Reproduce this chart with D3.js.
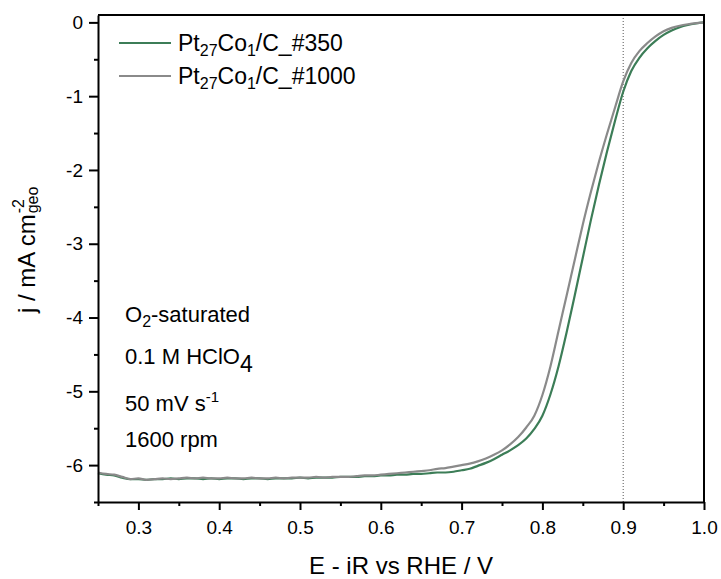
<!DOCTYPE html>
<html lang="en">
<head>
<meta charset="utf-8">
<script src="https://d3js.org/d3.v7.min.js"></script>
<style>
  body { margin: 0; background: #fff; }
  text { font-family: "Liberation Sans", Arial, sans-serif; fill: #000; }
</style>
<title>ORR polarization</title>
</head>
<body>
<div id="chart"></div>
<script>

// potential axis, shared by both curves (V vs RHE)
const potential = [
  0.25, 0.26, 0.27, 0.28, 0.29, 0.30, 0.31, 0.32, 0.33, 0.34,
  0.35, 0.36, 0.37, 0.38, 0.39, 0.40, 0.41, 0.42, 0.43, 0.44,
  0.45, 0.46, 0.47, 0.48, 0.49, 0.50, 0.51, 0.52, 0.53, 0.54,
  0.55, 0.56, 0.57, 0.58, 0.59, 0.60, 0.61, 0.62, 0.63, 0.64,
  0.65, 0.66, 0.67, 0.68, 0.69, 0.70, 0.71, 0.72, 0.73, 0.74,
  0.75, 0.76, 0.77, 0.78, 0.79, 0.80, 0.81, 0.82, 0.83, 0.84,
  0.85, 0.86, 0.87, 0.88, 0.89, 0.90, 0.91, 0.92, 0.93, 0.94,
  0.95, 0.96, 0.97, 0.98, 0.99, 1.00
];

// Pt27Co1/C_#350 current density (mA cm-2)
const j350 = [
  -6.11, -6.13, -6.14, -6.17, -6.19, -6.19, -6.20, -6.19, -6.19, -6.18,
  -6.19, -6.18, -6.18, -6.19, -6.18, -6.19, -6.18, -6.18, -6.19, -6.18,
  -6.18, -6.19, -6.18, -6.18, -6.18, -6.17, -6.18, -6.17, -6.17, -6.17,
  -6.16, -6.16, -6.16, -6.15, -6.15, -6.14, -6.14, -6.13, -6.13, -6.12,
  -6.12, -6.11, -6.10, -6.10, -6.09, -6.07, -6.05, -6.01, -5.97, -5.92,
  -5.86, -5.80, -5.73, -5.64, -5.51, -5.33, -5.04, -4.66, -4.20, -3.70,
  -3.19, -2.68, -2.20, -1.75, -1.33, -0.94, -0.66, -0.48, -0.35, -0.25,
  -0.17, -0.11, -0.065, -0.035, -0.015, 0.00
];

// Pt27Co1/C_#1000 current density (mA cm-2)
const j1000 = [
  -6.10, -6.12, -6.13, -6.16, -6.19, -6.18, -6.20, -6.19, -6.18, -6.19,
  -6.18, -6.17, -6.18, -6.17, -6.18, -6.18, -6.17, -6.18, -6.18, -6.17,
  -6.18, -6.18, -6.17, -6.18, -6.17, -6.17, -6.17, -6.16, -6.17, -6.16,
  -6.16, -6.16, -6.15, -6.14, -6.14, -6.13, -6.12, -6.11, -6.10, -6.09,
  -6.08, -6.07, -6.05, -6.04, -6.02, -6.00, -5.98, -5.95, -5.91, -5.86,
  -5.80, -5.72, -5.62, -5.49, -5.33, -5.05, -4.66, -4.18, -3.70, -3.22,
  -2.74, -2.30, -1.89, -1.51, -1.15, -0.80, -0.55, -0.39, -0.28, -0.19,
  -0.12, -0.075, -0.045, -0.025, -0.01, 0.00
];

const xTicks = [0.3, 0.4, 0.5, 0.6, 0.7, 0.8, 0.9, 1.0];
const xMinor = [0.25, 0.35, 0.45, 0.55, 0.65, 0.75, 0.85, 0.95];
const yTicks = [0, -1, -2, -3, -4, -5, -6];
const yMinor = [-0.5, -1.5, -2.5, -3.5, -4.5, -5.5, -6.5];
const refPotential = 0.9;

const margin = {top: 15, right: 17, bottom: 77, left: 98},
    width = 721 - margin.left - margin.right,
    height = 579 - margin.top - margin.bottom;

const svg = d3.select("#chart")
  .append("svg")
    .attr("width", 721)
    .attr("height", 579)
  .append("g")
    .attr("transform", `translate(${margin.left},${margin.top})`);

const x = d3.scaleLinear()
  .domain([0.25, 1.0])
  .range([0, width]);

const y = d3.scaleLinear()
  .domain([-6.5, 0.1])
  .range([height, 0]);

// dotted reference line at 0.9 V
svg.append("line")
  .attr("x1", x(refPotential))
  .attr("x2", x(refPotential))
  .attr("y1", 0)
  .attr("y2", height)
  .attr("stroke", "#555")
  .attr("stroke-width", 1)
  .attr("stroke-dasharray", "1,2");

const line = d3.line()
  .x(d => x(d[0]))
  .y(d => y(d[1]))
  .curve(d3.curveMonotoneX);

const series = [
  {name: "350", values: j350, color: "#3c7d57"},
  {name: "1000", values: j1000, color: "#8a8a8a"}
];

series.forEach(function(s) {
  svg.append("path")
    .datum(potential.map((e, i) => [e, s.values[i]]))
    .attr("fill", "none")
    .attr("stroke", s.color)
    .attr("stroke-width", 2.2)
    .attr("stroke-linejoin", "round")
    .attr("d", line);
});

// axes
svg.append("g")
  .attr("transform", `translate(0,${height})`)
  .call(d3.axisBottom(x).tickValues(xTicks).tickSize(8).tickPadding(11)
    .tickSizeOuter(0).tickFormat(d => d.toFixed(1)));
svg.append("g")
  .attr("transform", `translate(0,${height})`)
  .call(d3.axisBottom(x).tickValues(xMinor).tickSize(4).tickSizeOuter(0).tickFormat(""))
  .select(".domain").remove();

svg.append("g")
  .call(d3.axisLeft(y).tickValues(yTicks).tickSize(9).tickPadding(6)
    .tickSizeOuter(0).tickFormat(d => String(d)));
svg.append("g")
  .call(d3.axisLeft(y).tickValues(yMinor).tickSize(4).tickSizeOuter(0).tickFormat(""))
  .select(".domain").remove();

svg.selectAll(".tick line").attr("stroke-width", 2);
svg.selectAll(".domain").attr("stroke-width", 2);
svg.selectAll(".tick text").style("font-size", "19px").attr("fill", "#000");

// top and right frame
svg.append("path")
  .attr("d", `M0,0H${width}V${height}`)
  .attr("fill", "none")
  .attr("stroke", "#000")
  .attr("stroke-width", 2);

// axis titles
svg.append("text")
  .attr("x", width / 2)
  .attr("y", height + 72)
  .attr("text-anchor", "middle")
  .style("font-size", "24px")
  .text("E - iR vs RHE / V");

const yTitle = svg.append("g")
  .attr("transform", `translate(${35 - margin.left},${313 - margin.top}) rotate(-90)`);
const yMain = yTitle.append("text")
  .style("font-size", "24px")
  .text("j / mA cm");
const yW = yMain.node().getComputedTextLength();
yTitle.append("text")
  .attr("x", yW + 1)
  .attr("y", -11)
  .style("font-size", "16px")
  .text("-2");
yTitle.append("text")
  .attr("x", yW + 1)
  .attr("y", 3)
  .style("font-size", "16px")
  .text("geo");

// legend
const legend = svg.append("g").attr("transform", `translate(${119 - margin.left},0)`);
const legendRows = [
  {n: "350", y: 43},
  {n: "1000", y: 76}
];
legendRows.forEach(function(r, i) {
  legend.append("line")
    .attr("x1", 0).attr("x2", 52)
    .attr("y1", r.y - margin.top).attr("y2", r.y - margin.top)
    .attr("stroke", series[i].color)
    .attr("stroke-width", 2.2);
  const t = legend.append("text")
    .attr("x", 59)
    .attr("y", r.y - margin.top + 8)
    .style("font-size", "23px");
  t.append("tspan").text("Pt");
  t.append("tspan").attr("dy", 5).style("font-size", "16px").text("27");
  t.append("tspan").attr("dy", -5).text("Co");
  t.append("tspan").attr("dy", 5).style("font-size", "16px").text("1");
  t.append("tspan").attr("dy", -5).text("/C_#" + r.n);
});

// measurement conditions
const notes = svg.append("g").attr("transform", `translate(${125 - margin.left},${-margin.top})`);
const n1 = notes.append("text").attr("y", 322).style("font-size", "22px");
n1.append("tspan").text("O");
n1.append("tspan").attr("dy", 5).style("font-size", "16px").text("2");
n1.append("tspan").attr("dy", -5).text("-saturated");

const n2 = notes.append("text").attr("y", 364).style("font-size", "22px");
n2.append("tspan").text("0.1 M HClO");
n2.append("tspan").attr("dy", 8).style("font-size", "23px").text("4");

const n3 = notes.append("text").attr("y", 411).style("font-size", "22px");
n3.append("tspan").text("50 mV s");
n3.append("tspan").attr("dy", -9).style("font-size", "15px").text("-1");

notes.append("text").attr("y", 447).style("font-size", "22px").text("1600 rpm");

</script>
</body>
</html>
